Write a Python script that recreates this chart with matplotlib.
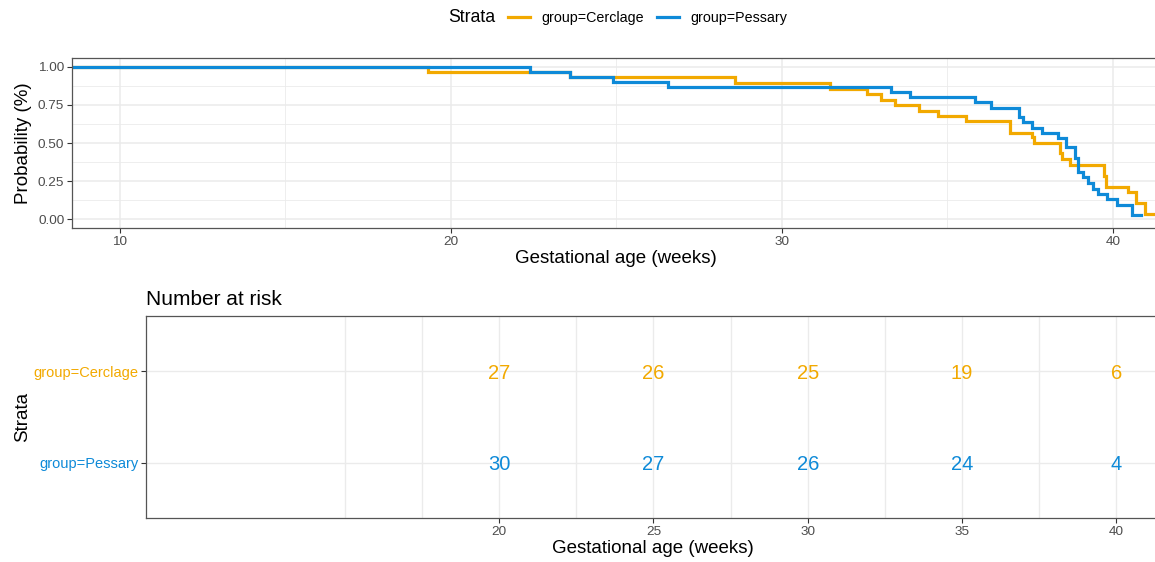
import numpy as np
import matplotlib.pyplot as plt
from matplotlib.lines import Line2D
from matplotlib.ticker import MultipleLocator

plt.rcParams['font.family'] = ['Liberation Sans', 'DejaVu Sans']

groups = ['group=Cerclage', 'group=Pessary']
colors = ['#F2A900', '#0E8AD8']

# survival curves (time in weeks, survival after the step)
cerclage_t = [0, 19.30, 23.60, 28.58, 31.45, 32.56, 32.99, 33.41, 34.15, 34.72,
              35.55, 36.89, 37.54, 37.62, 38.40, 38.45, 38.70, 39.73, 39.80,
              40.46, 40.68, 40.97, 41.6]
cerclage_s = [1.0, 0.967, 0.933, 0.897, 0.857, 0.820, 0.783, 0.748, 0.712, 0.680,
              0.645, 0.568, 0.540, 0.502, 0.432, 0.395, 0.355, 0.285, 0.213,
              0.180, 0.103, 0.033, 0.033]

pessary_t = [0, 22.39, 23.60, 24.90, 26.56, 33.29, 33.87, 35.83, 36.30, 37.17,
             37.29, 37.54, 37.87, 38.33, 38.58, 38.85, 38.95, 39.10, 39.25,
             39.40, 39.56, 39.81, 40.11, 40.56, 40.86]
pessary_s = [1.0, 0.967, 0.933, 0.900, 0.867, 0.833, 0.800, 0.767, 0.733, 0.673,
             0.636, 0.601, 0.568, 0.535, 0.471, 0.400, 0.312, 0.275, 0.235,
             0.198, 0.164, 0.129, 0.092, 0.026, 0.026]

# number at risk table
risk_times = [20, 25, 30, 35, 40]
cerclage_risk = [27, 26, 25, 19, 6]
pessary_risk = [30, 27, 26, 24, 4]

xlim = (8.55, 41.42)
grid_c = '#EBEBEB'
border_c = '#555555'
tick_c = '#4D4D4D'

fig = plt.figure(figsize=(11.55, 5.62), dpi=100)

# ---- survival plot
ax = fig.add_axes([72 / 1155, 1 - 228 / 562, (1160 - 72) / 1155, (228 - 58) / 562])
for t, s, c in zip([cerclage_t, pessary_t], [cerclage_s, pessary_s], colors):
    ax.step(t, s, where='post', color=c, lw=2.3, solid_joinstyle='miter')
ax.set_xlim(*xlim)
ax.set_ylim(-0.059, 1.059)
ax.set_xticks([10, 20, 30, 40])
ax.xaxis.set_minor_locator(MultipleLocator(5))
ax.set_yticks([0, 0.25, 0.5, 0.75, 1.0])
ax.set_yticklabels(['0.00', '0.25', '0.50', '0.75', '1.00'])
ax.yaxis.set_minor_locator(MultipleLocator(0.125))
ax.grid(which='major', color=grid_c, lw=1.1)
ax.grid(which='minor', color=grid_c, lw=0.6)
ax.set_axisbelow(True)
ax.tick_params(which='major', length=3.5, width=0.8, color='#333333',
               labelsize=9.7, labelcolor=tick_c, pad=2)
ax.tick_params(which='minor', length=0)
for sp in ax.spines.values():
    sp.set_color(border_c)
    sp.set_linewidth(0.9)
ax.set_xlabel('Gestational age (weeks)', fontsize=13.5, labelpad=2)
ax.set_ylabel('Probability (%)', fontsize=13.5, labelpad=4)

# ---- legend on top
fig.text(472 / 1155, 1 - 18 / 562, 'Strata', fontsize=12.7, ha='center', va='center')
handles = [Line2D([], [], color=c, lw=2.3) for c in colors]
fig.legend(handles, groups, loc='center left', bbox_to_anchor=(508 / 1155, 1 - 18 / 562),
           ncol=2, frameon=False, fontsize=10.3, handlelength=1.55, handletextpad=0.8,
           columnspacing=0.9, borderpad=0, borderaxespad=0)

# ---- risk table
ax2 = fig.add_axes([146 / 1155, 1 - 518 / 562, (1160 - 146) / 1155, (518 - 316) / 562])
ypos = {groups[0]: 2, groups[1]: 1}
for g, c, risk in zip(groups, colors, [cerclage_risk, pessary_risk]):
    for t, n in zip(risk_times, risk):
        ax2.text(t, ypos[g], str(n), color=c, fontsize=14.5, ha='center',
                 va='center_baseline')
ax2.set_xlim(*xlim)
ax2.set_ylim(0.4, 2.6)
ax2.set_xticks(risk_times)
ax2.set_xticks([15, 17.5, 22.5, 27.5, 32.5, 37.5], minor=True)
ax2.set_yticks([1, 2])
ax2.set_yticklabels([groups[1], groups[0]])
for lab, c in zip(ax2.get_yticklabels(), [colors[1], colors[0]]):
    lab.set_color(c)
ax2.grid(which='both', color=grid_c, lw=1.0)
ax2.set_axisbelow(True)
ax2.tick_params(which='major', length=3.5, width=0.8, color='#333333',
                labelsize=9.7, pad=2)
ax2.tick_params(axis='x', labelcolor=tick_c)
ax2.tick_params(axis='y', labelsize=10.5)
ax2.tick_params(which='minor', length=0)
for sp in ax2.spines.values():
    sp.set_color(border_c)
    sp.set_linewidth(0.9)
ax2.set_xlabel('Gestational age (weeks)', fontsize=13.5, labelpad=2)
ax2.set_ylabel('Strata', fontsize=13.5, labelpad=1.5)
ax2.set_title('Number at risk', loc='left', fontsize=15, pad=8)

fig.savefig('out.png', dpi=100)
